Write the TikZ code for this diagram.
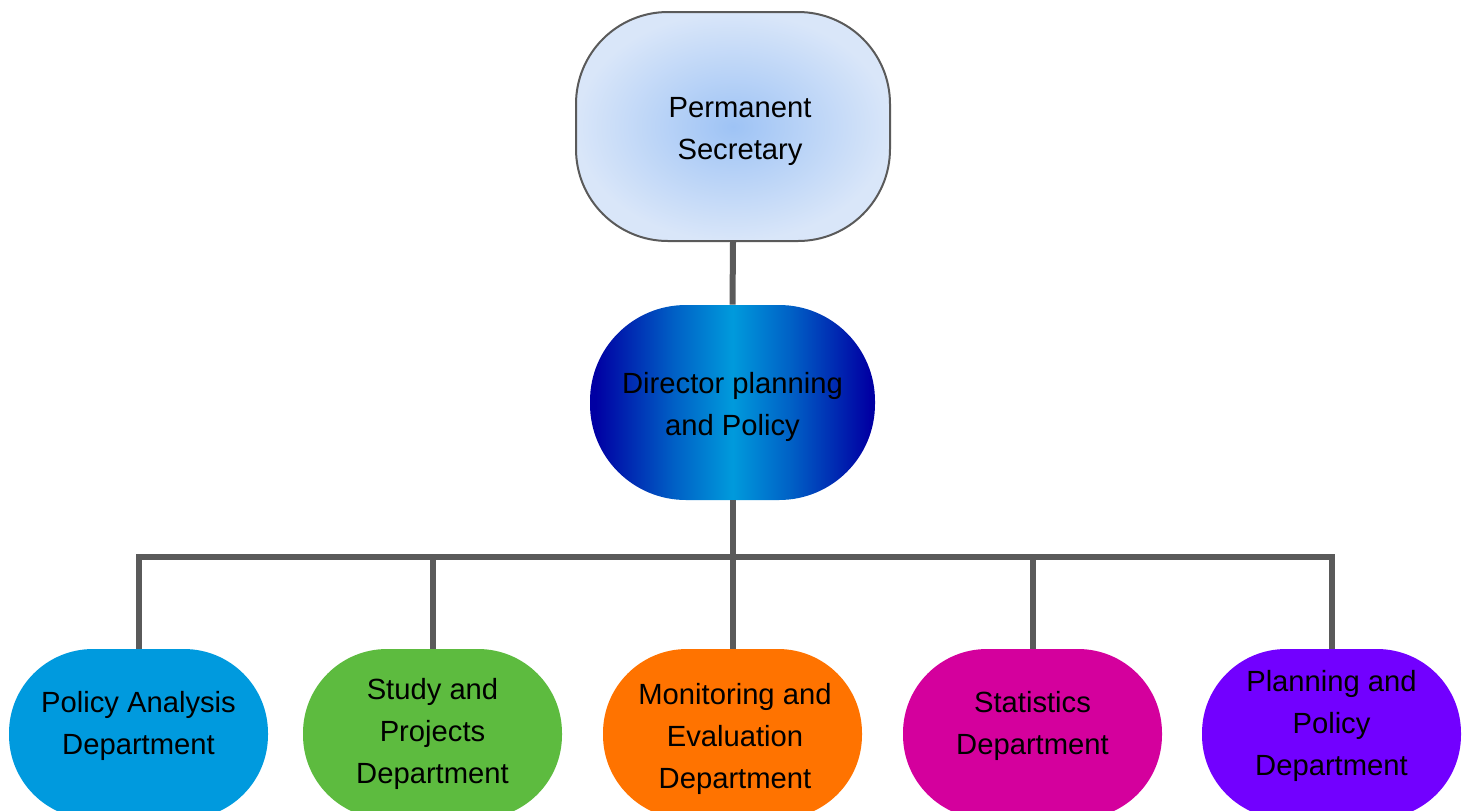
\documentclass[tikz,border=0pt]{standalone}
\usepackage{fontspec}
\setmainfont{Liberation Sans}

\definecolor{linegray}{HTML}{5A5A5A}
\definecolor{psinner}{HTML}{9EC3F5}
\definecolor{psouter}{HTML}{D9E6F9}
\definecolor{dpdark}{HTML}{0000A3}
\definecolor{dpmid}{HTML}{0062C6}
\definecolor{dplight}{HTML}{009ADC}
\definecolor{deptblue}{HTML}{009ADE}
\definecolor{deptgreen}{HTML}{5DBB3F}
\definecolor{deptorange}{HTML}{FF7300}
\definecolor{deptmagenta}{HTML}{D4009D}
\definecolor{deptpurple}{HTML}{7200FF}

\pgfdeclarehorizontalshading{dpshade}{100bp}{color(0bp)=(dpdark); color(26bp)=(dpdark);
  color(40bp)=(dpmid); color(50bp)=(dplight); color(60bp)=(dpmid);
  color(74bp)=(dpdark); color(100bp)=(dpdark)}

\tikzset{
  box/.style={rectangle, align=center, inner sep=0pt, font=\fontsize{14.6}{21}\selectfont},
  dept/.style={rectangle, minimum width=129.5pt, minimum height=85pt, rounded corners=42pt, fill=#1},
  link/.style={draw=linegray, line width=3pt},
}

\begin{document}
\begin{tikzpicture}[x=0.5pt,y=-0.5pt]
    \useasboundingbox (0,0) rectangle (1462,810);
    % top
    \node[rectangle, minimum width=157pt, minimum height=114.5pt, rounded corners=46pt,
          draw=linegray, line width=1pt, inner color=psinner, outer color=psouter]
          (ps) at (733,126.5) {};
    \node[rectangle, minimum width=142.5pt, minimum height=97.5pt, rounded corners=48pt,
          shade, shading=dpshade]
          (dp) at (732.5,402.5) {};
    \node[box] (ps-txt) at (740,131.5) {Permanent\\Secretary};
    \node[box] (dp-txt) at (732.5,406.5) {Director planning\\and Policy};
    % departments
    \node[dept=deptblue] (pa) at (138.5,734) {};
    \node[dept=deptgreen] (sp) at (432.5,734) {};
    \node[dept=deptorange] (me) at (732.5,734) {};
    \node[dept=deptmagenta] (st) at (1032.5,734) {};
    \node[dept=deptpurple] (pp) at (1331.5,734) {};
    \node[box] (pa-txt) at (138.5,725.5) {Policy Analysis\\Department};
    \node[box] (sp-txt) at (432.5,734) {Study and\\Projects\\Department};
    \node[box] (me-txt) at (735,739) {Monitoring and\\Evaluation\\Department};
    \node[box] (st-txt) at (1032.5,725.5) {Statistics\\Department};
    \node[box] (pp-txt) at (1331.5,726) {Planning and\\Policy\\Department};
    \coordinate (bus) at (733,557);
    % connectors
    \draw[link] (ps.south) -- (dp.north);
    \draw[link] (dp.south) -- (me.north);
    \draw[link] (pa.north) -- (pa.north |- bus) -- (pp.north |- bus) -- (pp.north);
    \draw[link] (sp.north) -- (sp.north |- bus);
    \draw[link] (st.north) -- (st.north |- bus);
\end{tikzpicture}
\end{document}
